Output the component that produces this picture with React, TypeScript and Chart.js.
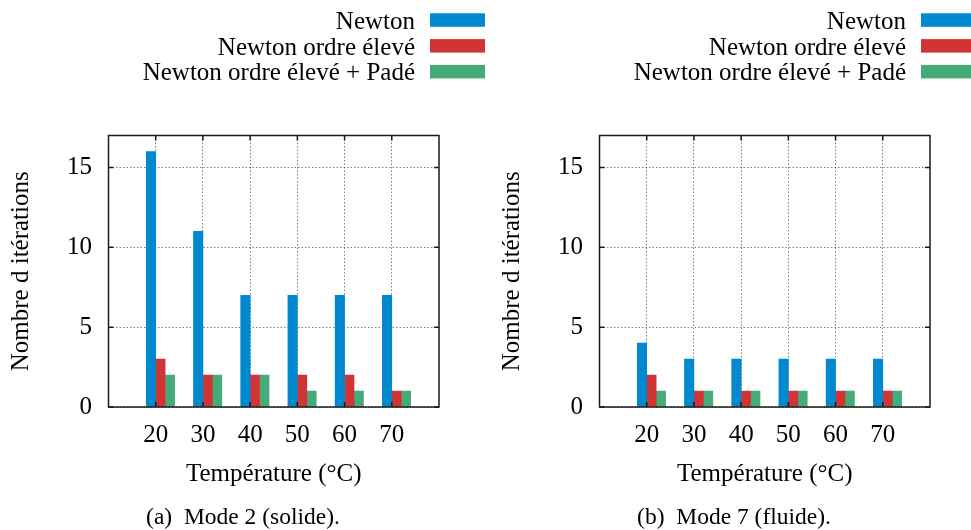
import React, { useEffect, useRef } from 'react';
import { Chart, registerables } from 'chart.js';

Chart.register(...registerables);

// ---- data ----
const temperatures = [20, 30, 40, 50, 60, 70];
const seriesLabels = ['Newton', 'Newton ordre élevé', 'Newton ordre élevé + Padé'];
const mode2Newton = [16, 11, 7, 7, 7, 7];
const mode2High = [3, 2, 2, 2, 2, 1];
const mode2Pade = [2, 2, 2, 1, 1, 1];
const mode7Newton = [4, 3, 3, 3, 3, 3];
const mode7High = [2, 1, 1, 1, 1, 1];
const mode7Pade = [1, 1, 1, 1, 1, 1];
const yTickValues = [0, 5, 10, 15];
const xTitle = 'Température (°C)';
const yTitle = 'Nombre d itérations';
const captionA = '(a)  Mode 2 (solide).';
const captionB = '(b)  Mode 7 (fluide).';

// ---- styles ----
const FAMILY = '"Liberation Serif", "Times New Roman", serif';
const FONT_SIZE = 25;
const seriesColors = ['rgb(0,137,207)', 'rgb(209,52,52)', 'rgb(69,171,120)'];
const slotOffsets = [-1, 1, 3]; // gnuplot-like cluster placement (x units)
const X_MIN = 10;
const X_MAX = 80;
const Y_MIN = 0;
const Y_MAX = 17;
const CANVAS_W = 486;
const CANVAS_H = 530;

const framePlugin = {
  id: 'frame',
  afterDatasetsDraw(chart: any) {
    const { ctx, chartArea } = chart;
    const { left, right, top, bottom } = chartArea;
    const xs = chart.scales.x;
    const ys = chart.scales.y;
    ctx.save();
    ctx.strokeStyle = '#1a1a1a';
    ctx.lineWidth = 1.5;
    ctx.setLineDash([]);
    ctx.beginPath();
    const t = 5;
    xs.ticks.forEach((tk: any) => {
      const px = xs.getPixelForValue(tk.value);
      ctx.moveTo(px, top);
      ctx.lineTo(px, top + t);
      ctx.moveTo(px, bottom);
      ctx.lineTo(px, bottom - t);
    });
    ys.ticks.forEach((tk: any) => {
      const py = ys.getPixelForValue(tk.value);
      ctx.moveTo(left, py);
      ctx.lineTo(left + t, py);
      ctx.moveTo(right, py);
      ctx.lineTo(right - t, py);
    });
    ctx.stroke();
    ctx.strokeRect(left, top, right - left, bottom - top);
    ctx.restore();
  },
};

const legendPlugin = {
  id: 'stackedLegend',
  afterDraw(chart: any) {
    const { ctx } = chart;
    ctx.save();
    ctx.font = `${FONT_SIZE}px ${FAMILY}`;
    ctx.textAlign = 'right';
    ctx.textBaseline = 'alphabetic';
    chart.data.datasets.forEach((ds: any, i: number) => {
      const baseline = 29 + i * 25.6;
      ctx.fillStyle = '#000';
      ctx.fillText(ds.label, 415, baseline);
      ctx.fillStyle = ds.backgroundColor;
      ctx.fillRect(430, 13.3 + i * 25.8, 55, 13.5);
    });
    ctx.restore();
  },
};

function makeConfig(values: number[][], caption: string): any {
  return {
    type: 'bar',
    data: {
      datasets: values.map((vals, k) => ({
        label: seriesLabels[k],
        data: temperatures.map((t, i) => ({ x: t + slotOffsets[k], y: vals[i] })),
        backgroundColor: seriesColors[k],
        borderWidth: 0,
        grouped: false,
        barPercentage: 1,
        categoryPercentage: 1,
      })),
    },
    options: {
      responsive: false,
      animation: false,
      events: [],
      layout: { padding: { top: 135.5, right: 0, left: 0, bottom: 0 } },
      font: { family: FAMILY },
      plugins: {
        legend: { display: false },
        tooltip: { enabled: false },
        title: {
          display: true,
          position: 'bottom',
          text: caption,
          color: '#000',
          font: { size: 23.5, family: FAMILY, weight: 'normal', lineHeight: 1 },
          padding: { top: 0, bottom: 0.5 },
        },
      },
      scales: {
        x: {
          type: 'linear',
          min: X_MIN,
          max: X_MAX,
          offset: false,
          afterBuildTicks: (s: any) => {
            s.ticks = temperatures.map((v) => ({ value: v }));
          },
          afterFit: (s: any) => {
            s.height = 99;
          },
          ticks: {
            color: '#000',
            font: { size: FONT_SIZE, family: FAMILY },
            padding: 13.7,
            maxRotation: 0,
            autoSkip: false,
          },
          grid: { offset: false, drawTicks: false, color: 'rgba(0,0,0,0.5)', lineWidth: 1, borderDash: [1.5, 2] },
          border: { display: false, dash: [1.5, 2] },
          title: {
            display: true,
            text: xTitle,
            color: '#000',
            font: { size: FONT_SIZE, family: FAMILY },
            padding: { top: 0, bottom: 16.6 },
          },
        },
        y: {
          type: 'linear',
          position: 'left',
          min: Y_MIN,
          max: Y_MAX,
          afterBuildTicks: (s: any) => {
            s.ticks = yTickValues.map((v) => ({ value: v }));
          },
          afterFit: (s: any) => {
            s.width = 108.5;
          },
          ticks: {
            color: '#000',
            font: { size: FONT_SIZE, family: FAMILY },
            padding: 16.5,
          },
          grid: { drawTicks: false, color: 'rgba(0,0,0,0.5)', lineWidth: 1, borderDash: [1.5, 2] },
          border: { display: false, dash: [1.5, 2] },
          title: {
            display: true,
            text: yTitle,
            color: '#000',
            font: { size: FONT_SIZE, family: FAMILY },
            padding: { top: 6, bottom: 0 },
          },
        },
        yRight: {
          type: 'linear',
          position: 'right',
          display: true,
          min: 0,
          max: 1,
          afterFit: (s: any) => {
            s.width = 47;
          },
          ticks: { display: false },
          grid: { display: false, drawTicks: false },
          border: { display: false },
        },
      },
    },
    plugins: [framePlugin, legendPlugin],
  };
}

function Panel({ values, caption, left }: { values: number[][]; caption: string; left: number }) {
  const ref = useRef<HTMLCanvasElement>(null);
  useEffect(() => {
    const chart = new Chart(ref.current as HTMLCanvasElement, makeConfig(values, caption));
    return () => chart.destroy();
  }, [values, caption]);
  return (
    <canvas
      ref={ref}
      width={CANVAS_W}
      height={CANVAS_H}
      style={{ position: 'absolute', left, top: 0, width: CANVAS_W, height: CANVAS_H }}
    />
  );
}

const panelA = [mode2Newton, mode2High, mode2Pade];
const panelB = [mode7Newton, mode7High, mode7Pade];

export default function App() {
  return (
    <div
      style={{
        position: 'absolute',
        left: 0,
        top: 0,
        width: 971,
        height: 530,
        overflow: 'hidden',
        background: '#fff',
      }}
    >
      <Panel values={panelA} caption={captionA} left={0} />
      <Panel values={panelB} caption={captionB} left={491} />
    </div>
  );
}
